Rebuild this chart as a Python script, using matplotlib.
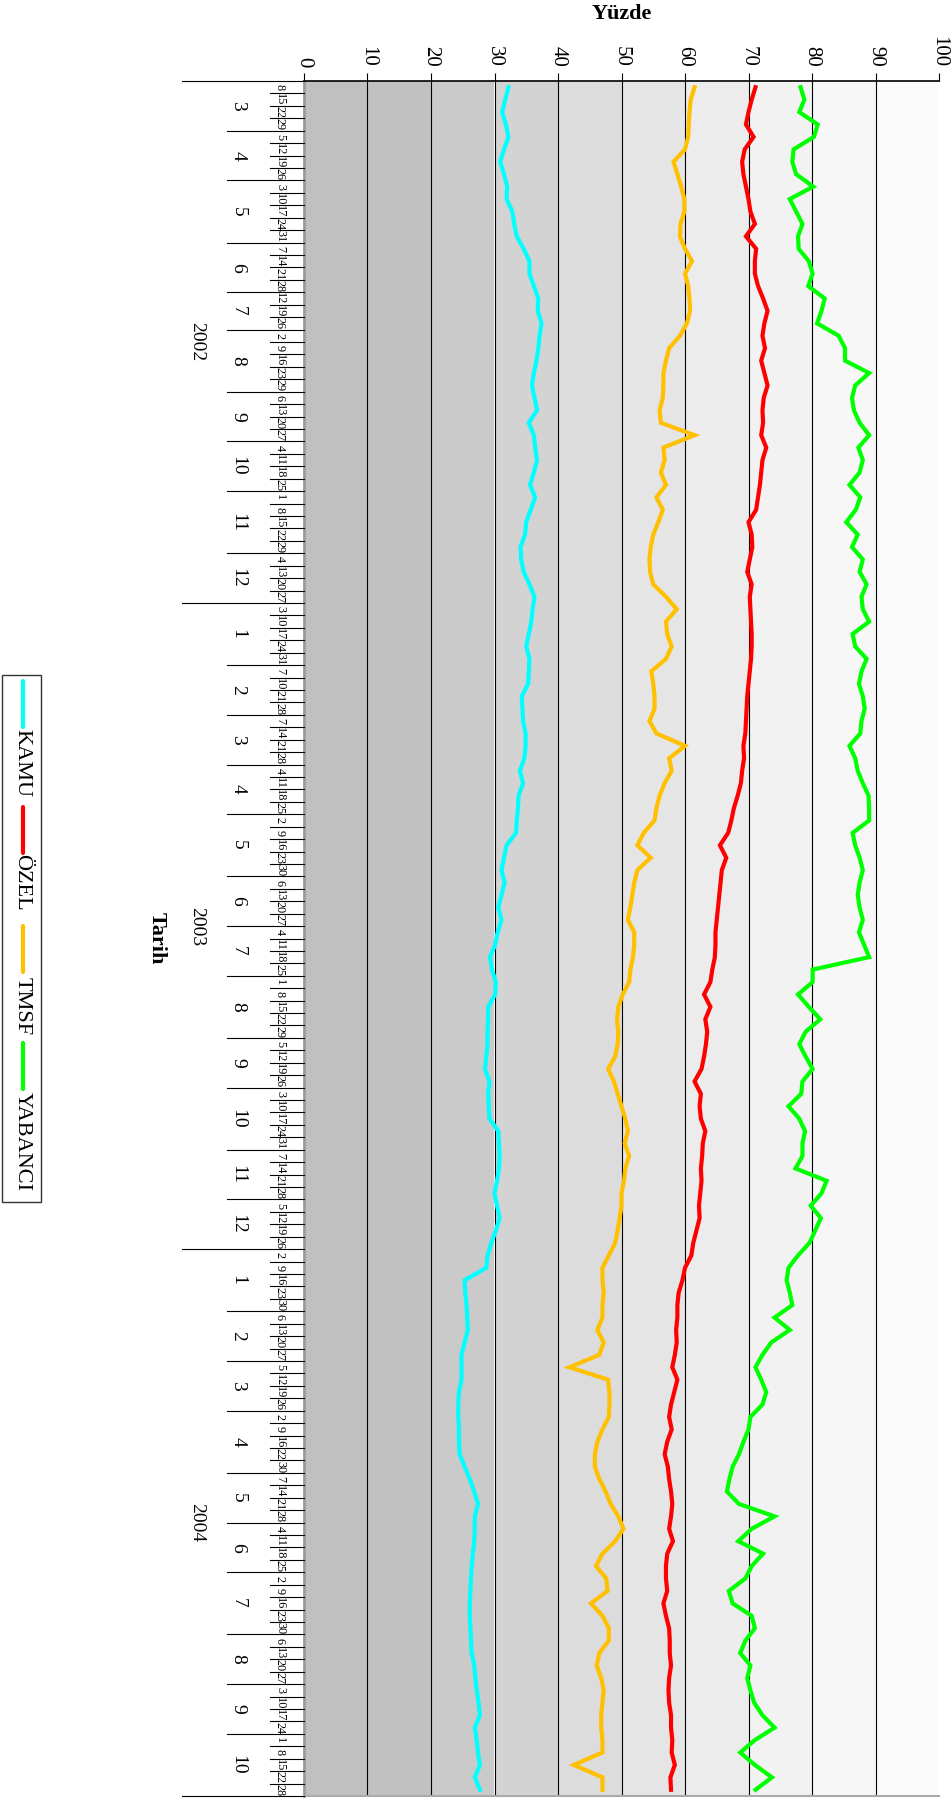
import matplotlib
matplotlib.use("Agg")
import matplotlib.pyplot as plt
from matplotlib.patches import Rectangle
from matplotlib.lines import Line2D

plt.rcParams['font.family'] = ['Liberation Serif', 'DejaVu Serif']

# ---------------- data ----------------
dates = [
    "2002-03-08", "2002-03-15", "2002-03-22", "2002-03-29",
    "2002-04-05", "2002-04-12", "2002-04-19", "2002-04-26",
    "2002-05-03", "2002-05-10", "2002-05-17", "2002-05-24", "2002-05-31",
    "2002-06-07", "2002-06-14", "2002-06-21", "2002-06-28",
    "2002-07-12", "2002-07-19", "2002-07-26",
    "2002-08-02", "2002-08-09", "2002-08-16", "2002-08-23", "2002-08-29",
    "2002-09-06", "2002-09-13", "2002-09-20", "2002-09-27",
    "2002-10-04", "2002-10-11", "2002-10-18", "2002-10-25",
    "2002-11-01", "2002-11-08", "2002-11-15", "2002-11-22", "2002-11-29",
    "2002-12-04", "2002-12-13", "2002-12-20", "2002-12-27",
    "2003-01-03", "2003-01-10", "2003-01-17", "2003-01-24", "2003-01-31",
    "2003-02-07", "2003-02-10", "2003-02-21", "2003-02-28",
    "2003-03-07", "2003-03-14", "2003-03-21", "2003-03-28",
    "2003-04-04", "2003-04-11", "2003-04-18", "2003-04-25",
    "2003-05-02", "2003-05-09", "2003-05-16", "2003-05-23", "2003-05-30",
    "2003-06-06", "2003-06-13", "2003-06-20", "2003-06-27",
    "2003-07-04", "2003-07-11", "2003-07-18", "2003-07-25",
    "2003-08-01", "2003-08-08", "2003-08-15", "2003-08-22", "2003-08-29",
    "2003-09-05", "2003-09-12", "2003-09-19", "2003-09-26",
    "2003-10-03", "2003-10-10", "2003-10-17", "2003-10-24", "2003-10-31",
    "2003-11-07", "2003-11-14", "2003-11-21", "2003-11-28",
    "2003-12-05", "2003-12-12", "2003-12-19", "2003-12-26",
    "2004-01-02", "2004-01-09", "2004-01-16", "2004-01-23", "2004-01-30",
    "2004-02-06", "2004-02-13", "2004-02-20", "2004-02-27",
    "2004-03-05", "2004-03-12", "2004-03-19", "2004-03-26",
    "2004-04-02", "2004-04-09", "2004-04-16", "2004-04-22", "2004-04-30",
    "2004-05-07", "2004-05-14", "2004-05-21", "2004-05-28",
    "2004-06-04", "2004-06-11", "2004-06-18", "2004-06-25",
    "2004-07-02", "2004-07-09", "2004-07-16", "2004-07-23", "2004-07-30",
    "2004-08-06", "2004-08-13", "2004-08-20", "2004-08-27",
    "2004-09-03", "2004-09-10", "2004-09-17", "2004-09-24",
    "2004-10-01", "2004-10-08", "2004-10-15", "2004-10-22", "2004-10-28",
]

kamu = [
    32.2, 31.7, 31.2, 31.8, 32.2, 31.5, 30.9, 31.5, 32.0, 31.9,
    32.8, 33.1, 33.5, 34.6, 35.5, 35.5, 36.2, 36.9, 36.8, 37.4,
    37.1, 36.9, 36.6, 36.2, 35.9, 36.3, 36.7, 35.4, 36.2, 36.4,
    36.7, 36.2, 35.6, 36.4, 35.7, 35.0, 34.8, 34.1, 34.2, 34.6,
    35.5, 36.3, 36.0, 35.8, 35.4, 35.0, 35.5, 35.4, 35.3, 34.3,
    34.4, 34.5, 34.9, 34.9, 34.7, 34.0, 34.5, 33.8, 33.7, 33.5,
    33.4, 31.9, 31.5, 31.1, 31.6, 31.1, 30.6, 31.1, 30.5, 30.1,
    29.3, 29.6, 30.2, 30.1, 29.0, 29.0, 28.9, 28.9, 28.7, 28.5,
    29.2, 29.0, 29.1, 29.2, 30.6, 30.7, 30.8, 30.7, 30.4, 30.0,
    30.4, 30.8, 30.2, 29.5, 28.9, 28.7, 25.3, 25.4, 25.6, 25.7,
    25.8, 25.3, 24.8, 24.8, 24.8, 24.4, 24.3, 24.3, 24.4, 24.4,
    24.5, 25.3, 26.1, 26.8, 27.4, 26.9, 26.9, 26.8, 26.6, 26.4,
    26.3, 26.2, 26.1, 26.1, 26.2, 26.3, 26.4, 26.8, 27.0, 27.2,
    27.5, 27.7, 26.9, 27.2, 27.4, 27.7, 26.9, 27.7,
]

ozel = [
    71.1, 70.5, 70.0, 69.6, 70.8, 69.4, 69.0, 69.2, 69.6, 70.0,
    70.3, 71.0, 69.6, 71.2, 71.0, 71.0, 71.5, 72.3, 73.0, 72.5,
    72.2, 72.6, 72.0, 72.5, 73.0, 72.4, 72.2, 72.3, 72.0, 72.8,
    72.2, 72.0, 71.8, 71.5, 71.2, 70.0, 70.5, 70.6, 70.2, 69.8,
    70.5, 70.2, 70.3, 70.4, 70.5, 70.5, 70.4, 70.2, 70.0, 69.8,
    69.7, 69.6, 69.5, 69.2, 69.3, 69.0, 68.8, 68.3, 67.7, 67.3,
    66.8, 65.5, 66.5, 65.8, 65.6, 65.4, 65.2, 65.0, 64.8, 64.8,
    64.7, 64.3, 64.0, 63.0, 64.0, 63.2, 63.5, 63.3, 63.0, 62.6,
    61.5, 62.5, 62.3, 62.5, 63.2, 62.8, 62.7, 62.5, 62.6, 62.4,
    62.2, 62.3, 61.8, 61.3, 61.0, 60.0, 59.6, 59.0, 58.8, 58.8,
    58.6, 58.7, 58.4, 58.0, 58.8, 58.3, 57.8, 57.5, 57.9, 57.2,
    56.8, 57.3, 57.5, 57.8, 58.0, 57.8, 57.5, 58.1, 57.2, 57.0,
    57.0, 57.2, 56.6, 57.0, 57.5, 57.6, 57.6, 57.8, 57.5, 57.4,
    57.5, 57.8, 57.8, 58.0, 57.9, 58.4, 57.7, 57.8,
]

tmsf = [
    61.5, 60.9, 60.7, 60.6, 60.5, 60.0, 58.2, 58.8, 59.4, 59.9,
    59.9, 59.3, 59.2, 60.0, 61.1, 60.0, 60.5, 60.7, 60.8, 60.3,
    59.2, 57.5, 57.0, 56.6, 56.6, 56.5, 56.0, 56.2, 61.5, 56.6,
    56.8, 56.2, 57.0, 55.5, 56.5, 55.8, 55.0, 54.6, 54.4, 54.5,
    55.0, 57.0, 58.7, 57.0, 57.2, 57.9, 57.0, 54.7, 55.0, 55.2,
    55.2, 54.4, 55.5, 60.0, 57.5, 57.9, 56.8, 56.0, 55.5, 55.2,
    53.5, 52.5, 54.6, 52.5, 52.0, 51.7, 51.4, 51.0, 52.0, 52.0,
    51.8, 51.4, 51.2, 50.2, 49.5, 49.3, 49.5, 49.4, 49.0, 47.9,
    48.8, 49.4, 50.0, 50.6, 51.0, 50.5, 51.2, 50.6, 50.4, 50.0,
    50.0, 49.7, 49.4, 49.0, 48.0, 47.0, 47.0, 47.2, 47.0, 47.0,
    46.2, 47.2, 46.5, 41.8, 47.9, 48.1, 48.1, 48.0, 47.0, 46.2,
    45.8, 45.8, 46.5, 47.5, 48.3, 49.5, 50.3, 49.0, 47.0, 46.0,
    47.6, 47.8, 45.2, 47.0, 48.0, 48.0, 46.5, 46.1, 46.8, 47.2,
    47.0, 46.8, 46.8, 47.0, 47.0, 42.5, 47.0, 47.0,
]

yabanci = [
    78.2, 78.8, 78.0, 80.9, 80.3, 77.1, 76.9, 77.5, 80.2, 76.5,
    77.5, 78.5, 77.8, 77.9, 79.5, 80.1, 79.4, 82.0, 81.5, 80.8,
    84.2, 85.2, 85.2, 89.0, 86.8, 86.3, 86.6, 87.5, 89.0, 87.3,
    88.0, 87.5, 85.9, 87.6, 86.9, 85.4, 87.2, 86.3, 88.0, 87.5,
    88.6, 87.8, 88.0, 89.0, 86.4, 86.8, 88.6, 87.8, 87.4, 88.0,
    88.3, 87.8, 87.6, 85.9, 86.8, 87.2, 88.0, 88.9, 89.0, 89.0,
    86.4, 86.8, 87.5, 88.0, 87.5, 87.2, 87.5, 88.0, 87.4, 88.2,
    89.0, 80.1, 80.1, 77.8, 79.5, 81.3, 79.0, 78.0, 79.0, 80.1,
    78.5, 78.3, 76.3, 78.0, 78.9, 78.5, 78.5, 77.4, 82.3, 81.5,
    79.8, 81.4, 80.5, 79.6, 77.8, 76.3, 76.0, 76.5, 76.9, 74.1,
    76.5, 73.6, 72.2, 71.1, 72.0, 72.8, 72.2, 70.3, 70.0, 69.2,
    68.5, 67.5, 67.0, 66.6, 68.5, 74.1, 70.5, 68.4, 72.3, 70.5,
    69.5, 66.9, 67.5, 70.5, 71.0, 69.5, 68.7, 70.3, 69.8, 70.3,
    70.9, 72.2, 74.1, 71.0, 68.7, 71.0, 73.7, 71.1,
]

series_names = ["KAMU", "ÖZEL", "TMSF", "YABANCI"]
value_ticks = [0, 10, 20, 30, 40, 50, 60, 70, 80, 90, 100]
x_title = "Yüzde"
y_title = "Tarih"

# ---------------- style ----------------
series_colors = ["#00ffff", "#ff0000", "#ffc000", "#00ff00"]
band_colors = ["#c0c0c0", "#c1c1c1", "#cacaca", "#d3d3d3", "#dcdcdc",
               "#e5e5e5", "#ececec", "#f2f2f2", "#f7f7f7", "#fbfbfb"]

W, H = 953, 1800
fig = plt.figure(figsize=(W / 100, H / 100), dpi=100)
L, R, T, B = 304, 939, 81, 1796
ax = fig.add_axes([L / W, 1 - B / H, (R - L) / W, (B - T) / H])

def ax_x(px):
    return (px - L) / (R - L)

n = len(dates)
idx = list(range(n))

# background bands + grid
for k in range(len(value_ticks) - 1):
    ax.axvspan(value_ticks[k], value_ticks[k + 1], color=band_colors[k], lw=0, zorder=0)
for v in value_ticks[1:-1]:
    ax.axvline(v, color="black", lw=0.8, zorder=1)

# series
handles = []
for vals, col, name in zip([kamu, ozel, tmsf, yabanci], series_colors, series_names):
    h, = ax.plot(vals, idx, color=col, lw=3.0, solid_joinstyle="miter", zorder=3, label=name)
    handles.append(h)

ax.set_xlim(0, 100)
ax.set_ylim(n - 0.5, -0.5)

# value axis on top
ax.xaxis.tick_top()
ax.set_xticks(value_ticks)
ax.set_xticklabels([str(v) for v in value_ticks], rotation=-90, fontsize=15)
ax.tick_params(axis="x", direction="out", length=6, width=0.8, pad=4, colors="black")
ax.set_yticks([])

ax.spines["right"].set_visible(False)
ax.spines["top"].set_linewidth(1.2)
ax.spines["left"].set_color("#9a9a9a")
ax.spines["left"].set_linewidth(2.0)
ax.spines["bottom"].set_color("#aaaaaa")
ax.spines["bottom"].set_linewidth(1.5)

# date axis (category cells, ticks at boundaries)
ytr = ax.get_yaxis_transform()
years = [d[:4] for d in dates]
months = [d[5:7] for d in dates]
days = [str(int(d[8:10])) for d in dates]

x_day, x_mon, x_year = ax_x(270), ax_x(227), ax_x(182)
for b in range(n + 1):
    yb = b - 0.5
    if b == 0 or b == n or years[b] != years[b - 1]:
        x0 = x_year
    elif months[b] != months[b - 1]:
        x0 = x_mon
    else:
        x0 = x_day
    ax.plot([x0, 0], [yb, yb], transform=ytr, color="black", lw=0.8, clip_on=False, zorder=5)

for i, d in enumerate(days):
    ax.text(ax_x(280), i, d, transform=ytr, rotation=-90, ha="center", va="center",
            fontsize=8.8, clip_on=False)

# month labels
start = 0
for i in range(1, n + 1):
    if i == n or months[i] != months[start] or years[i] != years[start]:
        ax.text(ax_x(238), (start + i - 1) / 2, str(int(months[start])), transform=ytr,
                rotation=-90, ha="center", va="center", fontsize=14, clip_on=False)
        start = i
# year labels
start = 0
for i in range(1, n + 1):
    if i == n or years[i] != years[start]:
        ax.text(ax_x(197), (start + i - 1) / 2, years[start], transform=ytr,
                rotation=-90, ha="center", va="center", fontsize=14, clip_on=False)
        start = i

# axis titles
ax.set_ylabel(y_title, rotation=-90, fontsize=16, fontweight="bold", va="center", ha="center")
ax.yaxis.set_label_coords(ax_x(157), 0.5)
ax.xaxis.set_label_position("top")
ax.set_xlabel(x_title, fontsize=16, fontweight="bold", va="center", ha="center")
ax.xaxis.set_label_coords(0.5, (B - 14) / (B - T))

# rotated legend, built manually
def fx(px):
    return px / W

def fy(py):
    return 1 - py / H

fig.add_artist(Rectangle((fx(2), fy(1202)), fx(41) - fx(2), fy(675) - fy(1202),
                         transform=fig.transFigure, fill=False, ec="#333333", lw=1.0))
seg = [(681, 727), (807, 853), (926, 972), (1043, 1089)]
txt = [763, 882, 1006, 1141]
for h, (a, b), ty in zip(handles, seg, txt):
    fig.add_artist(Line2D([fx(23), fx(23)], [fy(a), fy(b)], transform=fig.transFigure,
                          color=h.get_color(), lw=3.0, solid_capstyle="round"))
    fig.text(fx(22), fy(ty), h.get_label(), rotation=-90, ha="center", va="center", fontsize=16)

fig.savefig("out.png", dpi=100)
